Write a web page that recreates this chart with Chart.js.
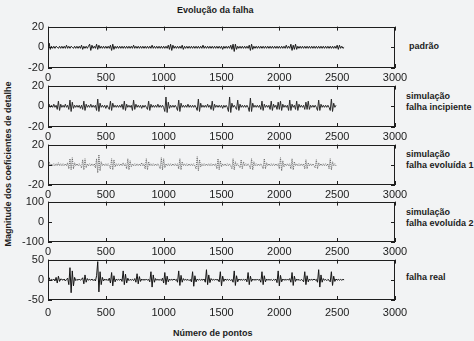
<!DOCTYPE html>
<html><head><meta charset="utf-8">
<script src="https://cdn.jsdelivr.net/npm/chart.js@4.4.1/dist/chart.umd.min.js"></script>
<style>
html,body{margin:0;padding:0;background:#f2f3f4;width:474px;height:341px;overflow:hidden;position:relative;font-family:"Liberation Sans",Arial,sans-serif;color:#1c1c1c}
canvas{position:absolute;left:0}
.t{position:absolute;font-weight:bold;font-size:9px;white-space:nowrap;line-height:11px}
</style></head><body>
<div class="t" style="left:177px;top:5px">Evolução da falha</div>
<div class="t" style="left:173px;top:328px">Número de pontos</div>
<div class="t" style="left:8px;top:164px;transform:translate(-50%,-50%) rotate(-90deg)">Magnitude dos coeficientes de detalhe</div>
<div class="t" style="left:409px;top:41px">padrão</div>
<div class="t" style="left:406px;top:91px">simulação<br>falha incipiente</div>
<div class="t" style="left:406px;top:149px">simulação<br>falha evoluída 1</div>
<div class="t" style="left:406px;top:207px">simulação<br>falha evoluída 2</div>
<div class="t" style="left:406px;top:272px">falha real</div>
<script>
// sample numbers (x axis categories): 0..2560 every 10 points
const sampleIndex = [];
for (let x = 0; x <= 2560; x += 10) sampleIndex.push(x);

const seriesNames = ["padrão", "falha incipiente", "falha evoluída 1", "falha evoluída 2", "falha real"];
const xTicks = [0, 500, 1000, 1500, 2000, 2500, 3000];
const yRanges = [[-20, 20], [-20, 20], [-20, 20], [-100, 100], [-50, 50]];

const seriesPadrao = [
 -6,4,-2,1,-1,1,-1,1,0,-1,1,-1,
 1,-1,1,-1,2,-1,1,-1,1,0,-1,1,
 -1,1,-1,1,-1,2,-2,1,-1,1,-1,1,
 3,-3,2,-1,1,-1,3,-2,2,-1,1,-1,
 1,-1,1,-1,1,-1,2,-3,3,-2,1,-1,
 1,-1,1,-1,1,-1,1,-1,1,-1,1,-1,
 1,-1,2,-1,1,-1,1,-1,1,-1,1,-1,
 1,-1,1,-1,1,-1,2,-1,1,-1,1,-1,
 1,-1,1,-1,1,-1,1,-1,2,-2,3,-3,
 2,-1,1,-1,1,-1,1,-1,2,-2,1,-1,
 1,-1,1,-1,1,-1,1,-1,1,-1,1,-1,
 1,-1,2,-1,1,-1,1,-1,1,-1,1,-1,
 1,-1,1,-1,1,-1,1,-2,1,-1,1,-1,
 1,-1,2,-2,3,-4,3,-2,1,-1,1,-1,
 1,-1,1,-1,1,-1,2,-3,3,-2,1,-1,
 1,-1,1,-1,1,-1,1,-1,1,-1,1,-1,
 1,-1,1,-1,1,-1,1,-1,1,-1,1,-1,
 1,-1,2,-1,1,-1,3,-3,2,-2,3,-2,
 1,-1,1,-1,1,-1,1,-1,1,-1,1,-1,
 1,-1,1,-1,1,-1,1,-1,1,-1,1,-1,
 1,-1,1,-1,1,-1,1,-1,1,-1,2,-2,
 2,-1,1,-1,0
];
const seriesIncipiente = [
 -3,2,-1,1,-1,2,-1,1,-3,5,-4,2,
 -1,1,-1,2,-1,1,-3,6,-5,4,-2,1,
 -1,1,-1,1,-2,1,-3,5,-4,2,-1,1,
 -1,2,-1,1,-1,1,-4,7,-5,3,-1,1,
 -1,1,-2,1,-1,-3,5,-4,3,-1,1,-1,
 1,-1,1,-1,2,-3,5,-4,2,-1,1,-1,
 1,-4,6,-3,2,-1,1,-1,1,-2,1,-1,
 1,-1,-3,5,-4,2,-1,1,-1,1,-1,2,
 -1,1,-1,1,-1,-5,9,-6,4,-2,1,-1,
 1,-1,1,-1,-4,6,-5,3,-1,1,-1,1,
 -1,2,-1,1,-1,1,-1,1,-1,-4,7,-5,
 3,-1,1,-1,1,-1,2,-1,1,-3,5,-4,
 2,-1,1,-1,1,-1,1,-2,1,-1,1,-1,
 -5,9,-6,3,-1,1,-1,-3,6,-4,2,-1,
 1,-1,1,-1,1,-1,-5,8,-5,3,-1,1,
 -1,1,-1,1,-3,5,-4,2,-1,1,-1,1,
 -3,5,-4,2,-1,1,-3,4,-3,5,-4,2,
 -1,1,-1,1,-4,6,-4,2,-1,1,-3,5,
 -4,2,-1,1,-1,1,-3,4,-3,5,-3,1,
 -1,1,-1,1,-1,-4,6,-4,2,-1,1,-1,
 1,-1,1,-1,-4,7,-5,3,-1,1,null,null,
 null,null,null,null,null
];
const seriesEvoluida1 = [
 -4,3,-1,1,-1,1,-1,1,-1,2,-1,1,
 -1,1,-1,1,-1,2,-4,6,-5,7,-4,2,
 -1,1,-1,1,-1,-3,5,-5,6,-3,1,-1,
 1,-1,1,-1,1,-3,6,-8,10,-6,3,-1,
 1,-1,1,-1,1,-1,-4,6,-5,5,-2,1,
 -1,1,-1,1,-1,2,-1,1,-4,6,-5,4,
 -2,1,-1,1,-1,1,-1,1,-1,2,-1,1,
 -4,6,-5,3,-1,1,-1,1,-1,1,-1,1,
 -1,-4,7,-5,6,-3,1,-1,1,-1,1,-1,
 1,-1,1,-1,1,-4,6,-5,3,-1,1,-1,
 1,-1,1,-1,1,-1,1,-1,-4,8,-6,5,
 -2,1,-1,1,-1,1,-1,1,-1,1,-1,1,
 -1,1,-4,6,-5,4,-2,1,-1,1,-1,1,
 -1,1,-1,-4,6,-5,3,-1,1,-1,-3,5,
 -4,3,-1,1,-1,1,-1,-4,6,-5,3,-1,
 1,-1,1,-1,1,-1,-4,6,-4,2,-1,1,
 -1,1,-1,1,-1,1,-1,1,-4,7,-6,4,
 -2,1,-1,1,-1,1,-4,6,-5,3,-1,1,
 -1,1,-1,1,-1,1,-4,5,-4,2,-1,1,
 -1,1,-1,-3,5,-4,2,-1,1,-1,1,-1,
 1,-1,1,-4,6,-5,3,-1,1,-1,null,null,
 null,null,null,null,null
];
const seriesEvoluida2 = [];
const seriesReal = [
 -4,5,-2,1,-1,2,-3,6,-8,9,-4,2,
 1,-1,2,-3,1,4,-12,30,-32,22,-15,6,
 -2,1,-1,2,-1,1,5,-10,12,-6,3,-1,
 1,-1,2,-2,1,-3,10,45,-30,20,-12,6,
 -3,2,-1,1,-2,4,-8,18,-15,10,-5,2,
 -1,1,-1,2,-4,22,-12,14,-8,4,-2,1,
 -1,1,-2,3,-6,15,-10,8,-4,2,-1,1,
 -1,2,-1,1,-5,20,-18,12,-6,3,-1,1,
 -1,1,-2,4,-8,18,-12,9,-5,2,-1,1,
 -1,2,-1,1,-6,22,-14,11,-6,3,-1,1,
 -1,1,-2,1,-5,20,-16,10,-5,2,-1,1,
 -1,1,-1,2,-6,25,-12,12,-7,3,-1,1,
 -1,2,-1,1,-5,20,-15,9,-4,2,-1,1,
 -1,1,-2,1,-6,22,-14,10,-5,2,-1,1,
 -1,1,-1,2,-5,18,-12,9,-4,2,-1,1,
 -1,2,-1,1,-6,20,-12,10,-5,2,-1,1,
 -1,1,-2,1,-1,2,-7,22,-15,11,-5,2,
 -1,1,-1,2,-1,3,-6,18,-14,9,-4,2,
 -1,1,-2,1,-1,-5,20,-12,10,-5,2,-1,
 1,-1,2,-1,1,-6,25,-18,12,-6,3,-1,
 1,-2,1,-1,-5,20,-14,9,-4,2,-1,1,
 -1,1,-1,1,0
];

const allSeries = [seriesPadrao, seriesIncipiente, seriesEvoluida1, seriesEvoluida2, seriesReal];
const lineColors = ['#1a1a1a', '#2a2a2a', '#666', '#1a1a1a', '#151515'];
const boxes = [[23, 68], [82, 127], [141, 185], [198, 242], [256, 300]];

const boxPlugin = {
  id: 'boxTicks',
  afterDraw(chart) {
    const ctx = chart.ctx, a = chart.chartArea;
    ctx.save();
    ctx.strokeStyle = '#1e1e1e';
    ctx.lineWidth = 1;
    ctx.strokeRect(Math.round(a.left) + 0.5, Math.round(a.top) + 0.5, Math.round(a.right - a.left) - 1, Math.round(a.bottom - a.top) - 1);
    ctx.beginPath();
    chart.scales.x.ticks.forEach(t => {
      const px = Math.round(chart.scales.x.getPixelForValue(t.value)) + 0.5;
      ctx.moveTo(px, a.bottom); ctx.lineTo(px, a.bottom - 4);
      ctx.moveTo(px, a.top); ctx.lineTo(px, a.top + 4);
    });
    chart.scales.y.ticks.forEach(t => {
      const py = Math.round(chart.scales.y.getPixelForValue(t.value)) + 0.5;
      ctx.moveTo(a.left, py); ctx.lineTo(a.left + 4, py);
      ctx.moveTo(a.right, py); ctx.lineTo(a.right - 4, py);
    });
    ctx.stroke();
    ctx.restore();
  }
};

boxes.forEach((b, i) => {
  const padTop = 7, xH = (i === 4) ? 24 : 20;
  const cv = document.createElement('canvas');
  const h = (b[1] - b[0]) + padTop + xH;
  cv.width = 474; cv.height = h;
  cv.style.top = (b[0] - padTop) + 'px';
  cv.style.width = '474px'; cv.style.height = h + 'px';
  document.body.appendChild(cv);
  const vals = allSeries[i];
  const pts = [];
  vals.forEach((v, k) => { pts.push({x: sampleIndex[k], y: v}); });
  const yr = yRanges[i];
  new Chart(cv, {
    type: 'line',
    data: { datasets: [{
      label: seriesNames[i],
      data: pts,
      borderColor: lineColors[i],
      borderWidth: 1,
      borderDash: i === 2 ? [1, 1] : [],
      pointRadius: 0,
      tension: 0,
      spanGaps: false
    }]},
    options: {
      responsive: false, animation: false, devicePixelRatio: 1,
      layout: { padding: { top: padTop, right: 79, left: 0, bottom: 0 } },
      plugins: { legend: { display: false }, tooltip: { enabled: false } },
      scales: {
        x: {
          type: 'linear', min: 0, max: 3000,
          afterBuildTicks: s => { s.ticks = xTicks.map(v => ({value: v})); },
          grid: { display: false, drawTicks: false }, border: { display: false },
          ticks: { color: '#222', padding: i === 4 ? 6 : 3, maxRotation: 0, autoSkip: false,
                   callback: v => String(v),
                   font: { family: "'Liberation Sans Narrow','Liberation Sans',Arial", size: 11 } },
          afterFit: s => { s.height = xH; }
        },
        y: {
          min: yr[0], max: yr[1],
          afterBuildTicks: s => { s.ticks = [yr[0], 0, yr[1]].map(v => ({value: v})); },
          grid: { display: false, drawTicks: false }, border: { display: false },
          ticks: { color: '#222', padding: 4, callback: v => String(v),
                   font: { family: "'Liberation Sans',Arial", size: 11 } },
          afterFit: s => { s.width = 48; }
        }
      }
    },
    plugins: [boxPlugin]
  });
});
</script>
</body></html>
